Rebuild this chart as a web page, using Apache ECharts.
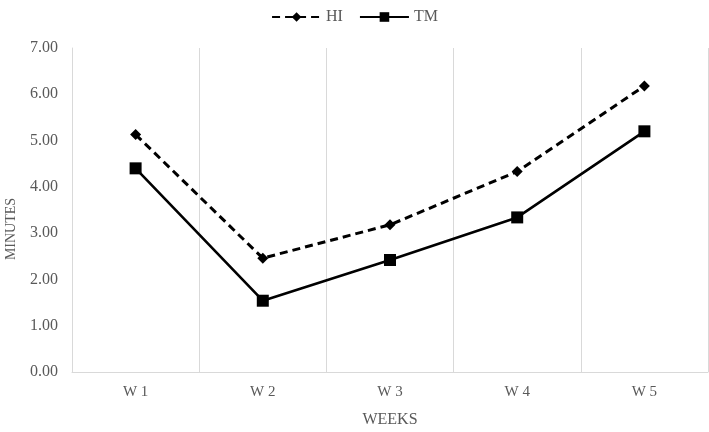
<!DOCTYPE html>
<html><head><meta charset="utf-8">
<script src="https://cdn.jsdelivr.net/npm/echarts@6/dist/echarts.min.js"></script>
<style>html,body{margin:0;padding:0;background:#fff}#c{width:709px;height:432px}</style>
</head><body><div id="c"></div>
<script>
const categories = ['W 1', 'W 2', 'W 3', 'W 4', 'W 5'];
const hiValues = [5.13, 2.46, 3.18, 4.33, 6.18];
const tmValues = [4.40, 1.54, 2.42, 3.34, 5.20];
const font = '"Liberation Serif", "Times New Roman", serif';
const chart = echarts.init(document.getElementById('c'));
chart.setOption({
  animation: false,
  textStyle: { fontFamily: font },
  legend: {
    top: 4, left: 'center', itemWidth: 49, itemHeight: 12, itemGap: 16,
    textStyle: { fontFamily: font, fontSize: 16, color: '#595959' },
    data: ['HI', 'TM']
  },
  grid: { left: 72, right: 1, top: 48, bottom: 60, containLabel: false, outerBoundsMode: 'none' },
  graphic: [{
    type: 'text', rotation: Math.PI / 2,
    x: 11, y: 229,
    style: { text: 'MINUTES', font: '14px ' + font, fill: '#595959', align: 'center', verticalAlign: 'middle' }
  }],
  xAxis: {
    type: 'category', data: categories, boundaryGap: true,
    name: 'WEEKS', nameLocation: 'middle', nameGap: 40,
    nameTextStyle: { fontFamily: font, fontSize: 16, color: '#595959' },
    axisLine: { lineStyle: { color: '#d9d9d9', width: 1 } },
    axisTick: { show: false },
    axisLabel: { fontFamily: font, fontSize: 15, color: '#595959', margin: 13 },
    splitLine: { show: true, lineStyle: { color: '#d9d9d9', width: 1 } }
  },
  yAxis: {
    type: 'value', min: 0, max: 7, interval: 1,
    axisLine: { show: true, lineStyle: { color: '#d9d9d9', width: 1 } },
    axisTick: { show: false },
    axisLabel: { fontFamily: font, fontSize: 16, color: '#595959', margin: 14,
      formatter: v => v.toFixed(2) },
    splitLine: { show: false }
  },
  series: [
    { name: 'HI', type: 'line', data: hiValues, symbol: 'diamond', symbolSize: 11,
      lineStyle: { color: '#000', width: 3, type: [8, 5] },
      itemStyle: { color: '#000' } },
    { name: 'TM', type: 'line', data: tmValues, symbol: 'rect', symbolSize: 12,
      lineStyle: { color: '#000', width: 2.6, type: 'solid' },
      itemStyle: { color: '#000' } }
  ]
});
</script></body></html>
